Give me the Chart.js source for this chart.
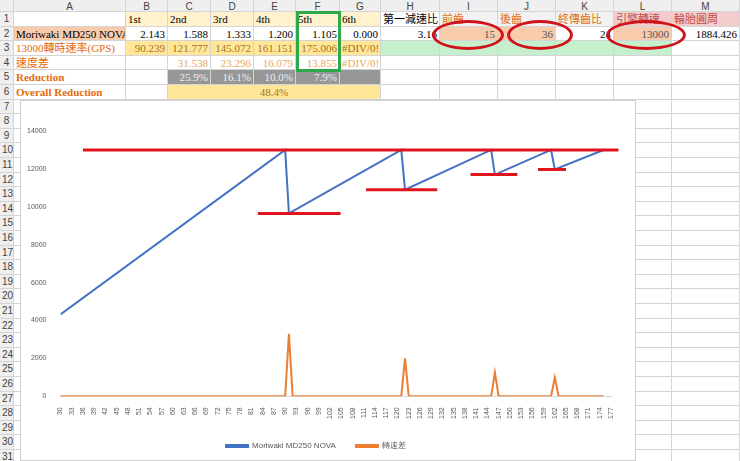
<!DOCTYPE html>
<html lang="zh-Hant">
<head>
<meta charset="UTF-8">
<title>Moriwaki MD250 NOVA</title>
<script src="https://cdn.jsdelivr.net/npm/chart.js"></script>
<style>
  body { margin: 0; width: 740px; height: 461px; overflow: hidden; background: #fff;
         font-family: "Liberation Serif", "Noto Sans CJK TC", serif; font-size: 11px; position: relative; }
  .c { position: absolute; box-sizing: border-box; border-right: 1px solid #d4d4d4; border-bottom: 1px solid #d4d4d4;
       white-space: nowrap; overflow: hidden; padding: 0 2px; line-height: 14px; }
  .hd { background: #efefef; color: #444; text-align: center; font-family: "Liberation Sans", sans-serif; font-size: 10px; }
  #box { position: absolute; left: 20px; top: 100px; width: 616px; height: 361px; background: #fff;
         border: 1px solid #d0d0d0; box-sizing: border-box; }
  .ring { position: absolute; border: 3px solid #d0121b; border-radius: 50%; box-sizing: border-box; }
</style>
</head>
<body>
<div id="sheet"></div>
<div id="box"><canvas id="chart" width="614" height="359"></canvas></div>
<script>
// chart data
const rpmSpeed = [30, 90, 91, 121, 122, 145, 146, 161, 162, 175];
const rpmValues = [4320, 13000, 9650, 13000, 10900, 13000, 11700, 13000, 11970, 13000];
const diffSpeed = [30, 90, 91, 92, 121, 122, 123, 145, 146, 147, 161, 162, 163, 175];
const diffValues = [0, 0, 3300, 0, 0, 2000, 0, 0, 1250, 0, 0, 1000, 0, 0];
// red marker lines [fromSpeed, toSpeed, rpm]
const markLines = [[36, 179, 13000], [82.7, 104.8, 9650], [111.6, 130.6, 10900], [139.5, 152, 11700], [157.5, 165, 11970]];

// sheet contents
const colNames = ['', 'A', 'B', 'C', 'D', 'E', 'F', 'G', 'H', 'I', 'J', 'K', 'L', 'M'];
const colEdges = [0, 14, 126, 168, 211, 254, 296, 340, 381, 440, 498, 556, 614, 672, 740];
const rowTop = 12, rowH = 14.6;
// [row, col, text, bg, fg, align(1 right, 2 center), bold, span]
const cells = [
  [1, 3, '1st', '#fff2cc'], [1, 4, '2nd', '#fff2cc'], [1, 5, '3rd', '#fff2cc'], [1, 6, '4th', '#fff2cc'],
  [1, 7, '5th', '#fff2cc'], [1, 8, '6th', '#fff2cc'], [1, 9, '第一減速比', '#fff'],
  [1, 10, '前齒', '#f2f2f2', '#e46c0a'], [1, 11, '後齒', '#f2f2f2', '#e46c0a'], [1, 12, '終傳齒比', '#f2f2f2', '#e46c0a'],
  [1, 13, '引擎轉速', '#f4cccc', '#c0504d'], [1, 14, '輪胎圓周', '#f4cccc', '#c0504d'],
  [2, 2, 'Moriwaki MD250 NOVA', '#f8cbad'], [2, 3, '2.143', '', '', 1], [2, 4, '1.588', '', '', 1], [2, 5, '1.333', '', '', 1],
  [2, 6, '1.200', '', '', 1], [2, 7, '1.105', '', '', 1], [2, 8, '0.000', '', '', 1], [2, 9, '3.16', '', '', 1],
  [2, 10, '15', '#f8cbad', '#555', 1], [2, 11, '36', '#f8cbad', '#555', 1], [2, 12, '24', '', '', 1],
  [2, 13, '13000', '#f8cbad', '#555', 1], [2, 14, '1884.426', '', '', 1],
  [3, 2, '13000轉時速率(GPS)', '', '#e46c0a'], [3, 3, '90.239', '#ffe699', '#a5741a', 1], [3, 4, '121.777', '#ffe699', '#a5741a', 1],
  [3, 5, '145.072', '#ffe699', '#a5741a', 1], [3, 6, '161.151', '#ffe699', '#a5741a', 1], [3, 7, '175.006', '#ffe699', '#a5741a', 1],
  [3, 8, '#DIV/0!', '#ffe699', '#a5741a'], [3, 9, '', '#c6efce'], [3, 10, '', '#c6efce'], [3, 11, '', '#c6efce'],
  [3, 12, '', '#c6efce'], [3, 13, '', '#c6efce'],
  [4, 2, '速度差', '', '#e46c0a'], [4, 4, '31.538', '', '#e8a860', 1], [4, 5, '23.296', '', '#e8a860', 1],
  [4, 6, '16.079', '', '#e8a860', 1], [4, 7, '13.855', '', '#e8a860', 1], [4, 8, '#DIV/0!', '', '#e8a860'],
  [5, 2, 'Reduction', '', '#e46c0a', 0, 1], [5, 4, '25.9%', '#979797', '#eee', 1], [5, 5, '16.1%', '#979797', '#eee', 1],
  [5, 6, '10.0%', '#979797', '#eee', 1], [5, 7, '7.9%', '#979797', '#eee', 1], [5, 8, '', '#979797'],
  [6, 2, 'Overall Reduction', '', '#e46c0a', 0, 1], [6, 4, '48.4%', '#ffe699', '#a5741a', 2, 0, 5]
];

const sheet = document.getElementById('sheet');
function addCell(x, y, w, h, cls, text, bg, fg, align, bold) {
  const d = document.createElement('div');
  d.className = 'c ' + cls;
  d.style.cssText = `left:${x}px;top:${y}px;width:${w}px;height:${h}px;` +
    (bg ? `background:${bg};` : '') + (fg ? `color:${fg};` : '') + (bold ? 'font-weight:bold;' : '') +
    (align === 1 ? 'text-align:right;' : align === 2 ? 'text-align:center;' : '');
  d.textContent = text;
  sheet.appendChild(d);
}
for (let i = 0; i < colNames.length; i++) {
  addCell(colEdges[i], 0, colEdges[i + 1] - colEdges[i], rowTop, 'hd', colNames[i]);
}
for (let r = 1; r <= 31; r++) {
  const y = rowTop + (r - 1) * rowH;
  addCell(0, y, 14, rowH, 'hd', String(r));
  for (let c = 1; c < colNames.length; c++) addCell(colEdges[c], y, colEdges[c + 1] - colEdges[c], rowH, '', '');
}
for (const [r, c, text, bg, fg, align, bold, span] of cells) {
  const y = rowTop + (r - 1) * rowH;
  const end = c - 1 + (span || 1);
  addCell(colEdges[c - 1], y, colEdges[end] - colEdges[c - 1], rowH, '', text, bg, fg, align, bold);
}
// green box around column F, red rings around inputs
const g = document.createElement('div');
g.style.cssText = 'position:absolute;left:296px;top:11px;width:45px;height:61px;border:3px solid #2ea84a;box-sizing:border-box;';
sheet.appendChild(g);
for (const [x, w] of [[432, 72], [507, 66], [606, 80]]) {
  const e = document.createElement('div');
  e.className = 'ring';
  e.style.cssText = `left:${x}px;top:20px;width:${w}px;height:30px;`;
  sheet.appendChild(e);
}

const redLines = {
  id: 'redLines',
  afterDatasetsDraw(chart) {
    const { ctx, scales: { x, y } } = chart;
    ctx.save();
    ctx.strokeStyle = '#e0141e';
    ctx.lineWidth = 3;
    for (const [a, b, v] of markLines) {
      ctx.beginPath();
      ctx.moveTo(x.getPixelForValue(a), y.getPixelForValue(v));
      ctx.lineTo(x.getPixelForValue(b), y.getPixelForValue(v));
      ctx.stroke();
    }
    ctx.restore();
  }
};

new Chart(document.getElementById('chart'), {
  type: 'line',
  data: {
    datasets: [
      { label: 'Moriwaki MD250 NOVA', data: rpmSpeed.map((s, i) => ({ x: s, y: rpmValues[i] })),
        borderColor: '#4472c4', borderWidth: 2, pointRadius: 0, tension: 0 },
      { label: '轉速差', data: diffSpeed.map((s, i) => ({ x: s, y: diffValues[i] })),
        borderColor: '#ed7d31', borderWidth: 2, pointRadius: 0, tension: 0 }
    ]
  },
  options: {
    responsive: false,
    animation: false,
    layout: { padding: { left: 0, right: 24, top: 30, bottom: 0 } },
    plugins: {
      legend: { position: 'bottom', labels: { boxWidth: 22, boxHeight: 2, font: { size: 8 }, color: '#595959', padding: 20 } },
      tooltip: { enabled: false }
    },
    scales: {
      x: {
        type: 'linear', min: 30, max: 177,
        ticks: { stepSize: 3, autoSkip: false, maxRotation: 90, minRotation: 90, font: { size: 7 }, color: '#595959' },
        grid: { display: false }, border: { color: '#d9d9d9' }
      },
      y: {
        min: 0, max: 14000,
        ticks: { stepSize: 2000, font: { size: 7 }, color: '#595959', padding: 6, callback: v => String(v) },
        grid: { display: false }, border: { display: false }
      }
    }
  },
  plugins: [redLines]
});
</script>
</body>
</html>
